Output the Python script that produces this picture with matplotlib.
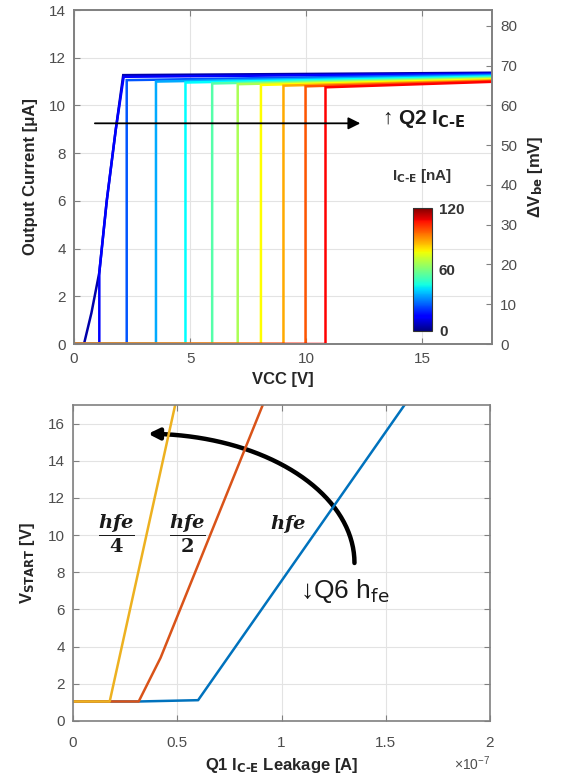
import numpy as np
import matplotlib

matplotlib.use("Agg")
import matplotlib.pyplot as plt
from matplotlib.patches import FancyArrowPatch
from matplotlib.path import Path

plt.rcParams["font.family"] = ["Liberation Sans", "DejaVu Sans"]
plt.rcParams["mathtext.default"] = "regular"

# top panel: output current vs VCC, one curve per Q2 leakage
ice_na = [0, 12, 24, 36, 48, 60, 72, 84, 96, 108, 120]
drop_v = [0.43, 1.09, 2.27, 3.53, 4.80, 5.95, 7.05, 8.05, 9.02, 9.97, 10.83]
plateau_start = [11.27, 11.20, 11.06, 11.00, 10.96, 10.92, 10.89, 10.86, 10.83, 10.80, 10.76]
plateau_end = [11.37, 11.33, 11.29, 11.25, 11.21, 11.17, 11.13, 11.09, 11.05, 11.02, 10.99]
ramp_v = [0.43, 0.75, 1.09, 1.41, 1.80, 2.12]
ramp_i = [0.0, 1.3, 3.0, 6.0, 9.0, 11.27]
vcc_max = 18

# MATLAB jet(11)
curve_colors = [
    (0, 0, 0.667), (0, 0, 1), (0, 0.333, 1), (0, 0.667, 1), (0, 1, 1),
    (0.333, 1, 0.667), (0.667, 1, 0.333), (1, 1, 0), (1, 0.667, 0), (1, 0.333, 0), (1, 0, 0),
]

# bottom panel: start-up voltage vs Q1 leakage for three hfe values
hfe1_x = [0, 3.15e-8, 6.0e-8, 1.59e-7]
hfe1_y = [1.05, 1.05, 1.12, 17]
hfe2_x = [0, 3.15e-8, 4.2e-8, 9.1e-8]
hfe2_y = [1.05, 1.05, 3.4, 17]
hfe4_x = [0, 1.76e-8, 4.9e-8]
hfe4_y = [1.05, 1.05, 17]
leak_ticks = [0, 0.5e-7, 1e-7, 1.5e-7, 2e-7]
leak_labels = ["0", "0.5", "1", "1.5", "2"]

TICK_C = "#4d4d4d"
LABEL_C = "#262626"
SPINE_C = "#808080"
GRID_C = "#e3e3e3"

fig = plt.figure(figsize=(5.61, 7.77), dpi=100)


def style_axes(ax):
    for s in ax.spines.values():
        s.set_color(SPINE_C)
        s.set_linewidth(1.2)
    ax.tick_params(direction="in", length=4, color=SPINE_C, labelcolor=TICK_C,
                   labelsize=11, top=True, pad=6)
    ax.grid(True, color=GRID_C, lw=0.8)
    ax.set_axisbelow(True)


# ---------------- top ----------------
ax = fig.add_axes([74 / 561, 1 - 344 / 777, 418 / 561, 334 / 777])
style_axes(ax)
for i, c in enumerate(ice_na):
    if i == 0:
        xs = [0] + ramp_v + [vcc_max]
        ys = [0] + ramp_i + [plateau_end[i]]
    elif i == 1:
        k = ramp_v.index(drop_v[i])
        xs = [0, drop_v[i]] + ramp_v[k:-1] + [ramp_v[-1] + 0.02, vcc_max]
        ys = [0, 0] + ramp_i[k:-1] + [plateau_start[i], plateau_end[i]]
    else:
        xs = [0, drop_v[i], drop_v[i], vcc_max]
        ys = [0, 0, plateau_start[i], plateau_end[i]]
    ax.plot(xs, ys, color=curve_colors[i], lw=1.8, solid_joinstyle="miter")
ax.set_xlim(0, vcc_max)
ax.set_ylim(0, 14)
ax.set_xticks([0, 5, 10, 15])
ax.set_yticks(range(0, 15, 2))
ax.tick_params(right=False)
ax.set_xlabel("VCC [V]", fontsize=12, fontweight="bold", color=LABEL_C, labelpad=4)
ax.set_ylabel("Output Current [μA]", fontsize=12, fontweight="bold", color=LABEL_C, labelpad=8)

ax2 = ax.twinx()
ax2.set_ylim(0, 84)
ax2.set_yticks(range(0, 81, 10))
for s in ax2.spines.values():
    s.set_color(SPINE_C)
    s.set_linewidth(1.2)
ax2.tick_params(direction="in", length=4, color=SPINE_C, labelcolor=TICK_C, labelsize=11, pad=6)
ax2.set_ylabel(r"ΔV$_{\mathbf{be}}$ [mV]", fontsize=12, fontweight="bold", color=LABEL_C, labelpad=6)

ax.annotate("", xy=(12.45, 9.25), xytext=(0.78, 9.25),
            arrowprops=dict(arrowstyle="-|>", color="k", lw=1.3, mutation_scale=18))
ax.text(13.25, 9.45, r"↑ Q2 I$_{\mathbf{C‐E}}$", fontsize=15, fontweight="bold",
        color="#1a1a1a", va="center", ha="left")

cax = fig.add_axes([413 / 561, 1 - 331 / 777, 19 / 561, 123 / 777])
sm = matplotlib.cm.ScalarMappable(cmap="jet", norm=matplotlib.colors.Normalize(0, 120))
cb = fig.colorbar(sm, cax=cax, ticks=[0, 60, 120])
cb.outline.set_edgecolor("#333333")
cb.outline.set_linewidth(0.8)
cax.tick_params(length=0, labelsize=11, labelcolor="#333333", pad=5)
for t in cax.get_yticklabels():
    t.set_fontweight("bold")
fig.text(422 / 561, 1 - 176 / 777, r"I$_{\mathbf{C‐E}}$ [nA]", fontsize=11, fontweight="bold",
         color="#333333", ha="center", va="center")

# ---------------- bottom ----------------
bx = fig.add_axes([73 / 561, 1 - 721 / 777, 417 / 561, 316 / 777])
style_axes(bx)
bx.tick_params(right=True)
bx.tick_params(axis="x", pad=11)
bx.plot(hfe1_x, hfe1_y, color="#0072BD", lw=1.8)
bx.plot(hfe2_x, hfe2_y, color="#D95319", lw=1.8)
bx.plot(hfe4_x, hfe4_y, color="#EDB120", lw=1.8)
bx.set_xlim(0, 2e-7)
bx.set_ylim(0, 17)
bx.set_xticks(leak_ticks)
bx.set_xticklabels(leak_labels)
bx.set_yticks(range(0, 17, 2))
bx.set_xlabel(r"Q1 I$_{\mathbf{C‐E}}$ Leakage [A]", fontsize=12, fontweight="bold", color=LABEL_C, labelpad=4)
bx.set_ylabel(r"V$_{\mathbf{START}}$ [V]", fontsize=12, fontweight="bold", color=LABEL_C, labelpad=8)
bx.text(1.0, -0.135, r"×10$^{-7}$", transform=bx.transAxes, fontsize=10, color=TICK_C,
        ha="right", va="center")

lab = dict(fontsize=14, color="#1a1a1a", ha="center", va="center", math_fontfamily="dejavuserif")
bx.text(0.21e-7, 10.05, r"$\dfrac{\mathbfit{hfe}}{\mathbf{4}}$", **lab)
bx.text(0.55e-7, 10.05, r"$\dfrac{\mathbfit{hfe}}{\mathbf{2}}$", **lab)
bx.text(1.03e-7, 10.6, r"$\mathbfit{hfe}$", **lab)

# curved arrow (quarter ellipse)
t = np.linspace(0, np.pi / 2, 40)
cx, cy, a, b = 0.36e-7, 8.5, 0.99e-7, 6.95
verts = list(zip(cx + a * np.cos(t), cy + b * np.sin(t)))
path = Path(verts, [Path.MOVETO] + [Path.LINETO] * (len(verts) - 1))
bx.add_patch(FancyArrowPatch(path=path, arrowstyle="-|>", mutation_scale=16, color="k", lw=3.2,
                             transform=bx.transData))
bx.text(1.09e-7, 7.0, r"↓Q6 h$_{\mathrm{fe}}$", fontsize=19, color="#1a1a1a", ha="left", va="center")

fig.savefig("out.png", dpi=100)
